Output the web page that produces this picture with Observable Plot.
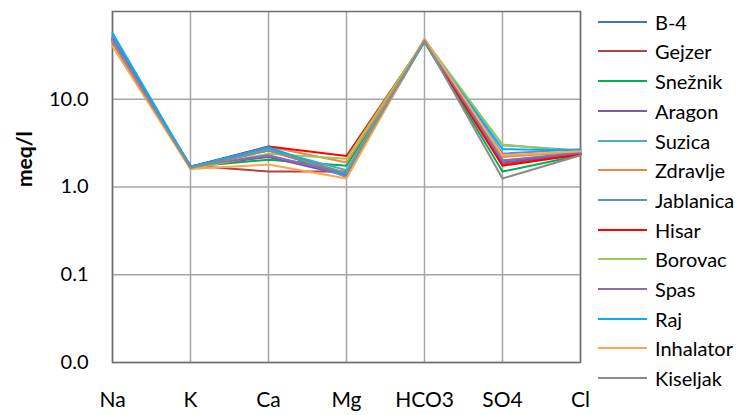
<!DOCTYPE html>
<html>
<head>
<meta charset="utf-8">
<script src="https://cdn.jsdelivr.net/npm/d3@7"></script>
<script src="https://cdn.jsdelivr.net/npm/@observablehq/plot@0.6"></script>
<style>
  html, body { margin: 0; padding: 0; background: #fff; }
  #wrap { position: relative; width: 751px; height: 415px; font-family: Lato, "Open Sans", sans-serif; }
  #legend { position: absolute; left: 598px; top: 0; }
  .item { position: absolute; left: 0; width: 160px; height: 24px; }
  .item .sw { position: absolute; left: 0; top: 11px; width: 49px; height: 2px; }
  .item .lb { position: absolute; left: 57px; top: 0; font-size: 20px; line-height: 24px; color: #000; white-space: nowrap; }
</style>
</head>
<body>
<div id="wrap"><div id="chart"></div><div id="legend"></div></div>
<script>
const ions = ["Na", "K", "Ca", "Mg", "HCO3", "SO4", "Cl"];
const seriesNames = ["B-4", "Gejzer", "Snežnik", "Aragon", "Suzica", "Zdravlje", "Jablanica", "Hisar", "Borovac", "Spas", "Raj", "Inhalator", "Kiseljak"];
const seriesColors = ["#4472C4", "#B04442", "#00B050", "#7A5C9E", "#4BACC6", "#E68A4A", "#5B8FD6", "#FF0000", "#9BC85B", "#8C6BB1", "#00B0F0", "#FFA64D", "#8C8C8C"];
const B4        = [50, 1.70, 2.60, 1.40, 47, 2.00, 2.40];
const Gejzer    = [48, 1.75, 1.50, 1.50, 46, 1.80, 2.40];
const Sneznik   = [47, 1.70, 2.05, 1.75, 45, 1.50, 2.30];
const Aragon    = [48, 1.70, 2.20, 1.35, 46, 1.90, 2.40];
const Suzica    = [52, 1.65, 2.70, 1.55, 48, 3.00, 2.60];
const Zdravlje  = [44, 1.65, 2.90, 1.90, 45, 2.20, 2.50];
const Jablanica = [53, 1.70, 2.80, 1.30, 48, 2.40, 2.70];
const Hisar     = [46, 1.70, 2.90, 2.25, 46, 1.75, 2.35];
const Borovac   = [47, 1.60, 2.40, 2.10, 47, 3.05, 2.50];
const Spas      = [49, 1.70, 2.30, 1.40, 47, 2.00, 2.45];
const Raj       = [57, 1.70, 2.85, 1.40, 46, 2.70, 2.60];
const Inhalator = [40, 1.60, 1.80, 1.25, 49, 2.30, 2.55];
const Kiseljak  = [45, 1.65, 2.60, 1.45, 47, 1.25, 2.30];
const yTicks = [0.01, 0.1, 1, 10];

const allValues = [B4, Gejzer, Sneznik, Aragon, Suzica, Zdravlje, Jablanica, Hisar, Borovac, Spas, Raj, Inhalator, Kiseljak];
const rows = [];
seriesNames.forEach((s, i) => ions.forEach((ion, j) => rows.push({series: s, ion, value: allValues[i][j]})));

const chart = Plot.plot({
  width: 595,
  height: 415,
  marginLeft: 112,
  marginRight: 15,
  marginTop: 11,
  marginBottom: 53,
  style: {fontFamily: "Lato, 'Open Sans', sans-serif", fontSize: "20px", color: "#000", background: "#fff"},
  x: {type: "point", domain: ions, padding: 0, label: null},
  y: {type: "log", domain: [0.01, 100], label: null},
  color: {domain: seriesNames, range: seriesColors},
  marks: [
    Plot.gridX(ions, {stroke: "#a6a6a6", strokeOpacity: 1, strokeWidth: 1.5}),
    Plot.gridY(yTicks, {stroke: "#a6a6a6", strokeOpacity: 1, strokeWidth: 1.5}),
    Plot.frame({stroke: "#6e6e6e", strokeWidth: 1.5}),
    Plot.axisX({tickSize: 0, tickPadding: 30, fontSize: 21, label: null}),
    Plot.axisY({ticks: yTicks, tickSize: 0, tickPadding: 24, tickFormat: d => d.toFixed(1), fontSize: 20, label: null}),
    Plot.line(rows, {x: "ion", y: "value", z: "series", stroke: "series", strokeWidth: 2}),
    Plot.text(["meq/l"], {frameAnchor: "left", dx: -87, rotate: -90, fontWeight: "bold", fontSize: 21, fill: "#000"})
  ]
});
document.getElementById("chart").appendChild(chart);

const legend = document.getElementById("legend");
seriesNames.forEach((s, i) => {
  const item = document.createElement("div");
  item.className = "item";
  item.style.top = (21.7 + i * 29.7 - 12) + "px";
  const sw = document.createElement("div");
  sw.className = "sw";
  sw.style.background = seriesColors[i];
  const lb = document.createElement("div");
  lb.className = "lb";
  lb.textContent = s;
  item.appendChild(sw);
  item.appendChild(lb);
  legend.appendChild(item);
});
</script>
</body>
</html>
